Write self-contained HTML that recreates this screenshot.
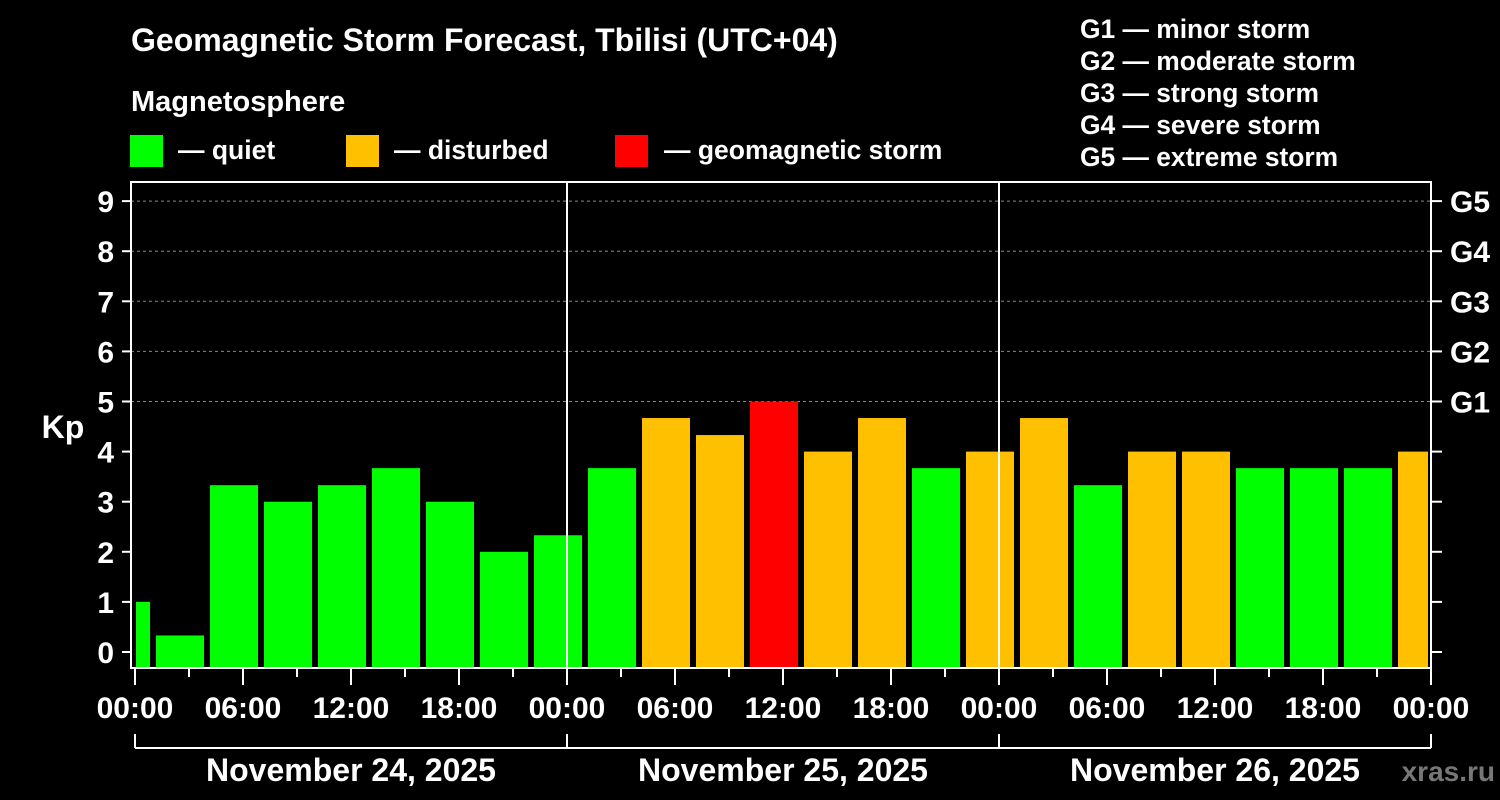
<!DOCTYPE html>
<html><head><meta charset="utf-8"><style>
html,body{margin:0;padding:0;background:#000;width:1500px;height:800px;overflow:hidden}
svg text{font-family:"Liberation Sans",sans-serif;font-weight:bold;fill:#fff}
</style></head><body>
<svg id="chart" width="1500" height="800" viewBox="0 0 1500 800">
<text x="131" y="51" font-size="32">Geomagnetic Storm Forecast, Tbilisi (UTC+04)</text>
<text x="131" y="111" font-size="29">Magnetosphere</text>
<g><rect x="130" y="135" width="33" height="32" fill="#00ff00"/><text x="178" y="159" font-size="26.5">— quiet</text></g>
<g><rect x="346" y="135" width="33" height="32" fill="#ffc000"/><text x="394" y="159" font-size="26.5">— disturbed</text></g>
<g><rect x="615" y="135" width="33" height="32" fill="#ff0000"/><text x="664" y="159" font-size="26.5">— geomagnetic storm</text></g>
<g>
<text x="1080" y="38" font-size="26.4">G1 — minor storm</text>
<text x="1080" y="70" font-size="26.4">G2 — moderate storm</text>
<text x="1080" y="102" font-size="26.4">G3 — strong storm</text>
<text x="1080" y="134" font-size="26.4">G4 — severe storm</text>
<text x="1080" y="166" font-size="26.4">G5 — extreme storm</text>
</g>
<g id="grid"></g><g id="bars"></g><g id="axes"></g>
<text x="63" y="438" font-size="32" text-anchor="middle">Kp</text>
<text x="1495" y="781" font-size="28" text-anchor="end" style="fill:#777">xras.ru</text>
</svg>
<script>
const kpValues=[1,0.33,3.33,3,3.33,3.67,3,2,2.33,3.67,4.67,4.33,5,4,4.67,3.67,4,4.67,3.33,4,4,3.67,3.67,3.67,4];
const binStartHour=-2;
const yTicks=[0,1,2,3,4,5,6,7,8,9];
const gLabels=["","","","","","G1","G2","G3","G4","G5"];
const xTickLabels=["00:00","06:00","12:00","18:00","00:00","06:00","12:00","18:00","00:00","06:00","12:00","18:00","00:00"];
const dayLabels=["November 24, 2025","November 25, 2025","November 26, 2025"];
const NS="http://www.w3.org/2000/svg";
const L=131,R=1431,T=182,B=668,X0=135,PXH=18;
const y=v=>652-v*50.1;
const x=h=>X0+h*PXH;
function mk(tag,attrs,parent,txt){const e=document.createElementNS(NS,tag);for(const k in attrs)e.setAttribute(k,attrs[k]);if(txt!==undefined)e.textContent=txt;parent.appendChild(e);return e;}
const grid=document.getElementById('grid'),bars=document.getElementById('bars'),axes=document.getElementById('axes');
yTicks.forEach((v,i)=>{
 if(v>=5){const g=mk('line',{x1:L,x2:R,y1:y(v),y2:y(v),stroke:'#888','stroke-width':1,'stroke-dasharray':'3,3'},grid);
 
 }
});
kpValues.forEach((v,i)=>{
 let h0=binStartHour+i*3;
 let x1=Math.max(x(h0)+3,L+5),x2=Math.min(x(h0+3),R-3);
 const c=v>=5?'#ff0000':(v>=4?'#ffc000':'#00ff00');
 const r=mk('rect',{x:x1,y:y(v),width:x2-x1-3*(x2<R-3?1:0),height:B-y(v),fill:c},bars);
 
 
});
mk('rect',{x:L,y:T,width:R-L,height:B-T,fill:'none',stroke:'#fff','stroke-width':2},axes);
[1,2].forEach(d=>{const l=mk('line',{x1:x(24*d),x2:x(24*d),y1:T,y2:B,stroke:'#fff','stroke-width':2},axes);
 
 });
yTicks.forEach((v,i)=>{
 mk('line',{x1:122,x2:L,y1:y(v),y2:y(v),stroke:'#fff','stroke-width':2},axes);
 mk('line',{x1:R,x2:1442,y1:y(v),y2:y(v),stroke:'#fff','stroke-width':2},axes);
 const t=mk('text',{x:114,y:y(v)+11,'font-size':30,'text-anchor':'end'},axes,String(v));
 
 
 if(gLabels[i]){const g=mk('text',{x:1450,y:y(v)+11,'font-size':30},axes,gLabels[i]);
 
 }
});
for(let h=0;h<=72;h+=3){const major=h%6===0;mk('line',{x1:x(h),x2:x(h),y1:B,y2:major?685:677,stroke:'#fff','stroke-width':2},axes);}
xTickLabels.forEach((s,i)=>{const t=mk('text',{x:x(i*6),y:718,'font-size':30,'text-anchor':'middle'},axes,s);
 
 });
mk('line',{x1:X0,x2:R,y1:748,y2:748,stroke:'#fff','stroke-width':2},axes);
[0,1,2,3].forEach(d=>mk('line',{x1:x(24*d),x2:x(24*d),y1:734,y2:748,stroke:'#fff','stroke-width':2},axes));
dayLabels.forEach((s,i)=>{const t=mk('text',{x:x(24*i+12),y:781,'font-size':32,'text-anchor':'middle'},axes,s);
 
 });
</script>
</body></html>
